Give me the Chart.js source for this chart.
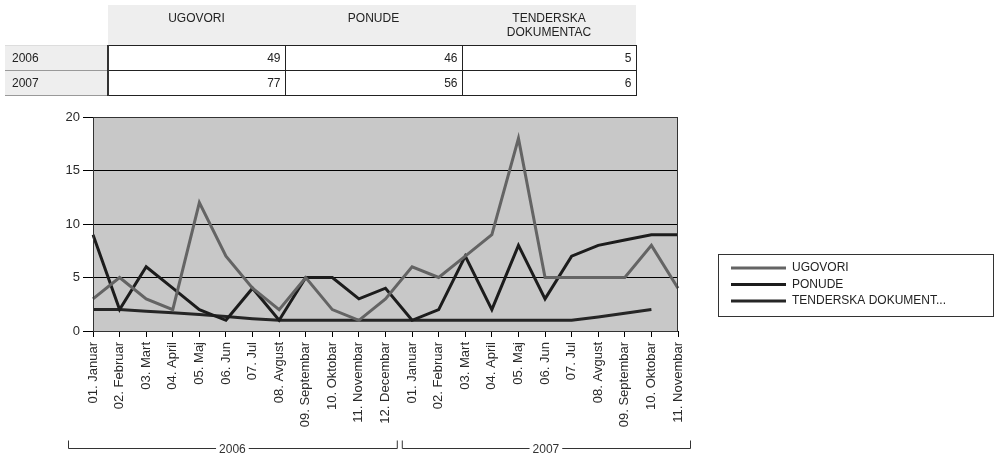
<!DOCTYPE html>
<html>
<head>
<meta charset="utf-8">
<script src="https://cdn.jsdelivr.net/npm/chart.js@4"></script>
<style>
    body { margin: 0; background: #fff; font-family: "Liberation Sans", Arial, sans-serif; }
    #wrap { position: relative; width: 994px; height: 460px; }
    #chart { position: absolute; left: 0; top: 0; }
    table.summary {
        position: absolute; left: 5px; top: 5px; width: 631px;
        table-layout: fixed;
        border-collapse: collapse; font-size: 12px; color: #222;
    }
    table.summary td, table.summary th { padding: 0 4px; font-weight: normal; box-sizing: border-box; }
    table.summary th { background: #eeeeee; height: 40px; text-align: center; vertical-align: top; padding-top: 6px; line-height: 14px; }
    table.summary th.corner { background: #fff; }
    table.summary td { height: 25px; }
    table.summary td.year { background: #eeeeee; text-align: left; padding-left: 7px; border-bottom: 1px solid #999; border-top: 1px solid #ddd; }
    table.summary td.num { background: #fff; text-align: right; border: 1px solid #222; }
    table.summary tr td.first { border-left: 2px solid #333; }
</style>
</head>
<body>
<div id="wrap">
    <canvas id="chart" width="994" height="460"></canvas>
    <table class="summary" id="summary">
        <colgroup><col style="width:103px"><col style="width:177px"><col style="width:177px"><col style="width:174px"></colgroup>
    </table>
</div>
<script>
// data
const months2006 = ['01. Januar', '02. Februar', '03. Mart', '04. April', '05. Maj', '06. Jun',
    '07. Jul', '08. Avgust', '09. Septembar', '10. Oktobar', '11. Novembar', '12. Decembar'];
const months2007 = ['01. Januar', '02. Februar', '03. Mart', '04. April', '05. Maj', '06. Jun',
    '07. Jul', '08. Avgust', '09. Septembar', '10. Oktobar', '11. Novembar'];
const categories = months2006.concat(months2007);

const ugovori = [3, 5, 3, 2, 12, 7, 4, 2, 5, 2, 1, 3,
    6, 5, 7, 9, 18, 5, 5, 5, 5, 8, 4];
const ponude = [9, 2, 6, 4, 2, 1, 4, 1, 5, 5, 3, 4,
    1, 2, 7, 2, 8, 3, 7, 8, 8.5, 9, 9];
const tenderska = [2, 2, 1.85, 1.7, 1.55, 1.35, 1.15, 1, 1, 1, 1, 1,
    1, 1, 1, 1, 1, 1, 1, 1.3, 1.65, 2, null];

const seriesNames = ['UGOVORI', 'PONUDE', 'TENDERSKA DOKUMENT...'];
const seriesColors = ['#646464', '#1c1c1c', '#262626'];

const yearGroups = ['2006', '2007'];
const tableHeaders = ['UGOVORI', 'PONUDE', 'TENDERSKA<br>DOKUMENTAC'];
const tableValues = [[49, 46, 5], [77, 56, 6]];

// summary table
const tbl = document.getElementById('summary');
let html = '<tr><th class="corner"></th>';
tableHeaders.forEach(h => { html += '<th>' + h + '</th>'; });
html += '</tr>';
yearGroups.forEach((y, i) => {
    html += '<tr><td class="year">' + y + '</td>';
    tableValues[i].forEach((v, j) => {
        html += '<td class="num' + (j === 0 ? ' first' : '') + '">' + v + '</td>';
    });
    html += '</tr>';
});
tbl.insertAdjacentHTML('beforeend', html);

// plot background + frame, year brackets, legend
const decorations = {
    id: 'decorations',
    beforeDatasetsDraw(chart) {
        const {ctx, chartArea: a} = chart;
        ctx.save();
        ctx.globalCompositeOperation = 'destination-over';
        ctx.fillStyle = '#c8c8c8';
        ctx.fillRect(a.left, a.top, a.right - a.left, a.bottom - a.top);
        ctx.restore();
    },
    afterDraw(chart) {
        const {ctx, chartArea: a} = chart;
        const x = chart.scales.x;
        ctx.save();
        ctx.strokeStyle = '#333';
        ctx.lineWidth = 1;
        ctx.strokeRect(a.left + 0.5, a.top + 0.5, a.right - a.left - 1, a.bottom - a.top);

        // year brackets
        const mid = (x.getPixelForValue(11) + x.getPixelForValue(12)) / 2;
        const spans = [
            [x.getPixelForValue(0) - 25, mid - 2],
            [mid + 3, x.getPixelForValue(categories.length - 1) + 12]
        ];
        const by = 448.5;
        ctx.font = '12px "Liberation Sans", Arial, sans-serif';
        ctx.fillStyle = '#333';
        ctx.textAlign = 'center';
        ctx.textBaseline = 'middle';
        spans.forEach((s, i) => {
            const cx = (s[0] + s[1]) / 2;
            const tw = ctx.measureText(yearGroups[i]).width / 2 + 3;
            ctx.beginPath();
            ctx.moveTo(s[0] + 0.5, by - 8);
            ctx.lineTo(s[0] + 0.5, by);
            ctx.lineTo(cx - tw, by);
            ctx.moveTo(cx + tw, by);
            ctx.lineTo(s[1] + 0.5, by);
            ctx.lineTo(s[1] + 0.5, by - 8);
            ctx.stroke();
            ctx.fillText(yearGroups[i], cx, by + 1);
        });

        // legend
        ctx.strokeStyle = '#333';
        ctx.strokeRect(718.5, 254.5, 275, 62);
        ctx.textAlign = 'left';
        chart.data.datasets.forEach((ds, i) => {
            const ly = 268 + i * 16.5;
            ctx.strokeStyle = ds.borderColor;
            ctx.lineWidth = 3;
            ctx.beginPath();
            ctx.moveTo(731, ly);
            ctx.lineTo(786, ly);
            ctx.stroke();
            ctx.fillStyle = '#222';
            ctx.fillText(ds.label, 792, ly);
        });
        ctx.restore();
    }
};

const data = {
    labels: categories,
    datasets: [ugovori, ponude, tenderska].map((values, i) => ({
        label: seriesNames[i],
        data: values,
        borderColor: seriesColors[i],
        borderWidth: 3,
        pointRadius: 0,
        tension: 0,
        fill: false
    }))
};

const config = {
    type: 'line',
    data,
    options: {
        responsive: false,
        animation: false,
        layout: {
            padding: {left: 53, top: 117, right: 316, bottom: 0}
        },
        plugins: {
            legend: {display: false},
            tooltip: {enabled: false}
        },
        scales: {
            x: {
                offset: false,
                afterFit: (scale) => { scale.height = 129; },
                grid: {drawOnChartArea: false, drawTicks: true, tickLength: 6, color: '#000'},
                border: {color: '#000', width: 1},
                ticks: {
                    autoSkip: false,
                    minRotation: 90,
                    maxRotation: 90,
                    padding: 5,
                    color: '#2a2a2a',
                    font: {family: '"Liberation Sans", Arial, sans-serif', size: 13}
                }
            },
            y: {
                min: 0,
                max: 20,
                afterFit: (scale) => { scale.width = 40; },
                grid: {color: '#000', lineWidth: 1, drawTicks: true, tickLength: 10},
                border: {color: '#000', width: 1},
                ticks: {
                    stepSize: 5,
                    padding: 3,
                    color: '#2a2a2a',
                    font: {family: '"Liberation Sans", Arial, sans-serif', size: 13}
                }
            }
        }
    },
    plugins: [decorations]
};

const myChart = new Chart(document.getElementById('chart'), config);
</script>
</body>
</html>
